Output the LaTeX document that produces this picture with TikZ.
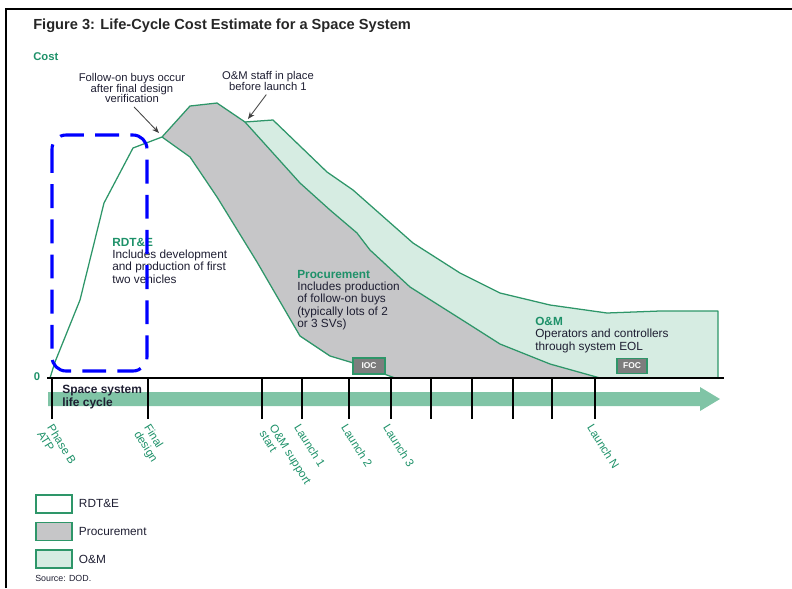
\documentclass[tikz,border=0pt]{standalone}
\usepackage{fontspec}
\setmainfont{Liberation Sans}
\usetikzlibrary{arrows.meta, positioning}
\definecolor{lcgreen}{RGB}{46,150,105}
\definecolor{lctext}{RGB}{30,145,105}
\definecolor{procgray}{RGB}{198,198,200}
\definecolor{omgreen}{RGB}{214,236,226}
\definecolor{bandgreen}{RGB}{128,196,166}
\definecolor{inkdark}{RGB}{30,30,50}
\definecolor{boxgray}{RGB}{125,125,125}
\definecolor{markblue}{RGB}{0,0,255}
\newcommand{\fsz}[2]{\fontsize{#1}{#2}\selectfont}

\begin{document}
\begin{tikzpicture}[x=0.025cm, y=-0.025cm,
    curve/.style={draw=lcgreen, line width=0.9pt, line join=round},
    body/.style={font=\fsz{8.4}{8.7}, text=inkdark, align=left, anchor=north west, inner sep=0pt},
    note/.style={font=\fsz{8}{7.8}, text=inkdark, align=center, inner sep=1pt},
    ticklbl/.style={font=\fsz{8.2}{8.4}, text=lctext, rotate=-58, anchor=north west, align=left, inner sep=0pt},
    milestone/.style={draw=lcgreen, fill=boxgray, line width=0.9pt, text=white, font=\fsz{6}{6}\bfseries, inner sep=0pt},
    legbox/.style={draw=lcgreen, line width=1.2pt, minimum width=0.9cm, minimum height=0.45cm, inner sep=0pt},
    leglbl/.style={font=\fsz{8.4}{8.4}, text=inkdark, inner sep=0pt}]
    \useasboundingbox (0,0) rectangle (792,588);

    % Frame
    \draw[line width=1.6pt] (6,588) -- (6,9) -- (792,9);

    % Title and axis caption
    \node[font=\fsz{10.4}{11}\bfseries, text=black!85, anchor=west, inner sep=0pt] (title) at (33,26) {Figure 3: Life-Cycle Cost Estimate for a Space System};
    \node[font=\fsz{8}{8}\bfseries, text=lctext, anchor=west, inner sep=0pt] (cost) at (33,57) {Cost};
    \node[font=\fsz{8}{8}\bfseries, text=lctext, inner sep=0pt] (zero) at (37,377) {0};

    % Procurement region
    \fill[procgray] (162,137) -- (190,106) -- (217,103) -- (245,122) -- (300,183) -- (330,210) -- (357,233)
        -- (370,250) -- (410,287) -- (467,323) -- (500,344) -- (550,364) -- (600,378) -- (395,378)
        -- (360,365) -- (330,356) -- (300,336) -- (257,262) -- (217,197) -- (190,157) -- cycle;

    % O&M region
    \fill[omgreen] (245,122) -- (273,120) -- (327,172) -- (353,190) -- (413,243) -- (460,273) -- (500,293)
        -- (550,305) -- (607,313) -- (660,311) -- (718,311) -- (718,378) -- (600,378) -- (550,364)
        -- (500,344) -- (467,323) -- (410,287) -- (370,250) -- (357,233) -- (330,210) -- (300,183) -- cycle;

    % Outlines
    \draw[curve] (50,378) -- (55,362) -- (80,300) -- (104,203) -- (133,148) -- (162,137) -- (190,106)
        -- (217,103) -- (245,122) -- (273,120) -- (327,172) -- (353,190) -- (413,243) -- (460,273)
        -- (500,293) -- (550,305) -- (607,313) -- (660,311) -- (718,311) -- (718,378);
    \draw[curve] (162,137) -- (190,157) -- (217,197) -- (257,262) -- (300,336) -- (330,356) -- (360,365) -- (395,378);
    \draw[curve] (245,122) -- (300,183) -- (330,210) -- (357,233) -- (370,250) -- (410,287) -- (467,323)
        -- (500,344) -- (550,364) -- (600,378);

    % Milestone boxes
    \node[milestone, minimum width=0.8cm, minimum height=0.4cm] (ioc) at (369,366) {IOC};
    \node[milestone, minimum width=0.75cm, minimum height=0.38cm] (foc) at (632,366) {FOC};

    % Region labels
    \node[body] (rdte) at (112,238) {{\color{lctext}\bfseries RDT\&E}\\Includes development\\and production of first\\two vehicles};
    \node[body] (proc) at (297,270) {{\color{lctext}\bfseries Procurement}\\Includes production\\of follow-on buys\\(typically lots of 2\\or 3 SVs)};
    \node[body] (om) at (535,317) {{\color{lctext}\bfseries O\&M}\\Operators and controllers\\through system EOL};

    % Annotations
    \node[note] (follownote) at (132,88) {Follow-on buys occur\\after final design\\verification};
    \node[note] (omnote) at (268,81) {O\&M staff in place\\before launch 1};
    \coordinate (fobuy) at (159,133);
    \coordinate (omstart) at (248,119);
    \draw[-{Stealth[length=5pt,width=4pt]}, black!75, line width=0.6pt, shorten <=2pt] (follownote.south) -- (fobuy);
    \draw[-{Stealth[length=5pt,width=4pt]}, black!75, line width=0.6pt, shorten <=2pt] (omnote.south) -- (omstart);

    % Time axis and life-cycle band
    \fill[bandgreen] (48,392) -- (700,392) -- (700,387) -- (720,399) -- (700,411) -- (700,406) -- (48,406) -- cycle;
    \draw[line width=1.8pt] (47,378) -- (724,378);
    \foreach \tx in {52,148,262,302,349,391,431,472,513,552,595}
        \draw[line width=1pt] (\tx,378) -- (\tx,419);
    \node[font=\fsz{8.5}{9}\bfseries, text=inkdark, align=left, anchor=north west, inner sep=0pt] (lifecycle) at (62,385) {Space system\\life cycle};

    % Milestone labels
    \foreach \tx/\lbl [count=\i] in {54/{Phase B\\ATP}, 151/{Final\\design}, 276/{O\&M support\\start},
        301/{Launch 1}, 348/{Launch 2}, 390/{Launch 3}, 594/{Launch N}}
        \node[ticklbl] (ms\i) at (\tx,423) {\lbl};

    % Highlight
    \draw[markblue, line width=2.2pt, dash pattern=on 17pt off 8pt, rounded corners=10pt] (52,135) rectangle (147,371);

    % Legend
    \node[legbox, fill=white, anchor=north west] (legrdte) at (35,494) {};
    \node[legbox, fill=procgray, below=0.2cm of legrdte] (legproc) {};
    \node[legbox, fill=omgreen, below=0.2cm of legproc] (legom) {};
    \node[leglbl, right=0.15cm of legrdte] (lblrdte) {RDT\&E};
    \node[leglbl, right=0.15cm of legproc] (lblproc) {Procurement};
    \node[leglbl, right=0.15cm of legom] (lblom) {O\&M};
    \node[font=\fsz{6.3}{7}, text=inkdark, anchor=west, inner sep=0pt] (source) at (35,578) {Source: DOD.};
\end{tikzpicture}
\end{document}
